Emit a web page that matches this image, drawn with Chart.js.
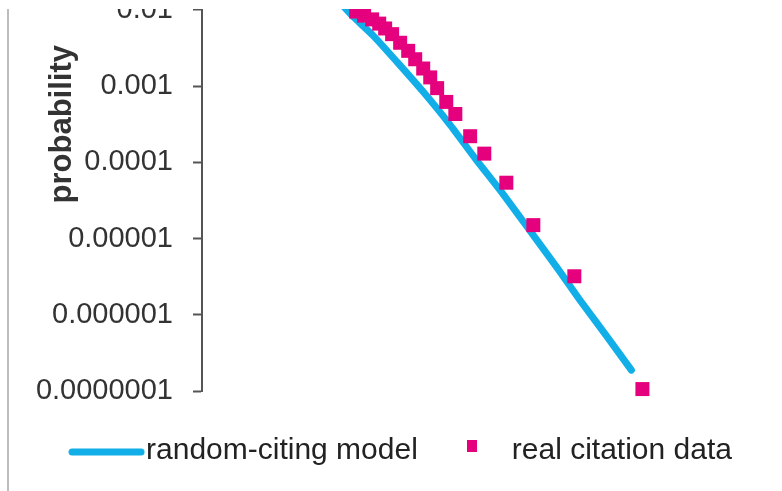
<!DOCTYPE html>
<html>
<head>
<meta charset="utf-8">
<script src="https://cdn.jsdelivr.net/npm/chart.js@4"></script>
<style>
  body { margin: 0; background: #fff; }
  #cadre { position: absolute; left: 0; top: 9px; width: 782px; height: 482px; overflow: hidden; }
  #graphique { position: absolute; left: 0; top: -189px; }
  #bord { position: absolute; left: 7px; top: 9px; width: 2px; height: 482px; background: #bdbdbd; }
</style>
</head>
<body>
<div id="cadre"><canvas id="graphique" width="782" height="671"></canvas></div>
<div id="bord"></div>
<script>
// random-citing model (curve)
const modelCitations = [16.4, 19.6, 29.8, 48.0, 80.4, 137, 226, 393, 672, 1150, 1815, 3100, 4990];
const modelProbability = [1.13e-2, 8.4e-3, 4.6e-3, 2.06e-3, 8.4e-4, 3.1e-4, 1.12e-4, 3.8e-5, 1.25e-5, 4.1e-6, 1.53e-6, 5.1e-7, 1.88e-7];

// real citation data (squares)
const realCitations = [21.3, 24.9, 29.2, 33.6, 37.8, 43.4, 50.9, 59.7, 68.6, 80.4, 92.4, 106, 127, 152, 204, 270, 418, 714, 1610, 6210];
const realProbability = [9.5e-3, 8.4e-3, 7.5e-3, 6.6e-3, 5.7e-3, 4.8e-3, 3.7e-3, 2.9e-3, 2.25e-3, 1.7e-3, 1.3e-3, 9.4e-4, 6.2e-4, 4.3e-4, 2.2e-4, 1.3e-4, 5.4e-5, 1.5e-5, 3.2e-6, 1.06e-7];

// y axis ticks
const yTickValues = [1, 0.1, 0.01, 0.001, 0.0001, 0.00001, 0.000001, 0.0000001];
const yTickLabels = ['1', '0.1', '0.01', '0.001', '0.0001', '0.00001', '0.000001', '0.0000001'];

const legendLabels = ['random-citing model', 'real citation data'];

const bleu = '#12aee8';
const rose = '#e5007e';

function toPoints(xs, ys) {
    return xs.map((x, i) => ({ x: x, y: ys[i] }));
}

// legend icons
const iconeLigne = document.createElement('canvas');
iconeLigne.width = 77;
iconeLigne.height = 30;
let c = iconeLigne.getContext('2d');
c.strokeStyle = bleu;
c.lineWidth = 7;
c.lineCap = 'round';
c.beginPath();
c.moveTo(4, 16);
c.lineTo(73, 16);
c.stroke();

const iconeCarre = document.createElement('canvas');
iconeCarre.width = 10;
iconeCarre.height = 30;
c = iconeCarre.getContext('2d');
c.fillStyle = rose;
c.fillRect(0, 4, 10, 12);

const ctx = document.getElementById('graphique').getContext('2d');
new Chart(ctx, {
    type: 'scatter',
    data: {
        datasets: [{
            label: legendLabels[0],
            data: toPoints(modelCitations, modelProbability),
            showLine: true,
            borderColor: bleu,
            backgroundColor: bleu,
            borderWidth: 7,
            borderCapStyle: 'round',
            borderJoinStyle: 'round',
            tension: 0.2,
            pointRadius: 0,
            order: 1
        }, {
            label: legendLabels[1],
            data: toPoints(realCitations, realProbability),
            showLine: false,
            pointStyle: 'rect',
            pointRadius: 9.9,
            backgroundColor: rose,
            borderColor: rose,
            borderWidth: 0,
            clip: false,
            order: 0
        }]
    },
    options: {
        responsive: false,
        animation: false,
        layout: { padding: { left: 32, right: 0, top: 34, bottom: 15 } },
        scales: {
            x: {
                type: 'logarithmic',
                min: 1,
                max: 81300,
                grid: { display: false },
                border: { display: false },
                ticks: { display: false },
                afterFit: s => { s.height = 15; }
            },
            y: {
                type: 'logarithmic',
                min: 0.0000001,
                max: 1,
                afterBuildTicks: s => { s.ticks = yTickValues.map(v => ({ value: v })); },
                afterFit: s => { s.width = 170; },
                ticks: {
                    callback: v => {
                        const i = yTickValues.findIndex(t => Math.abs(t - v) / t < 1e-6);
                        return i >= 0 ? yTickLabels[i] : null;
                    },
                    font: { family: 'Liberation Sans', size: 29 },
                    color: '#333',
                    padding: 20,
                    autoSkip: false
                },
                grid: {
                    drawOnChartArea: false,
                    drawTicks: true,
                    tickLength: 9,
                    tickColor: '#555',
                    tickWidth: 2
                },
                border: { display: true, color: '#555', width: 2 },
                title: {
                    display: true,
                    text: 'probability',
                    font: { family: 'Liberation Sans', size: 31, weight: 'bold' },
                    color: '#333',
                    padding: { top: 11.4, bottom: 0 }
                }
            }
        },
        plugins: {
            tooltip: { enabled: false },
            legend: {
                position: 'bottom',
                labels: {
                    usePointStyle: true,
                    pointStyleWidth: 49,
                    padding: 30,
                    color: '#222',
                    font: { family: 'Liberation Sans', size: 30 },
                    generateLabels: chart => {
                        const items = Chart.defaults.plugins.legend.labels.generateLabels(chart);
                        items.sort((a, b) => a.datasetIndex - b.datasetIndex);
                        items[0].pointStyle = iconeLigne;
                        items[1].pointStyle = iconeCarre;
                        return items;
                    }
                }
            }
        }
    }
});
</script>
</body>
</html>
